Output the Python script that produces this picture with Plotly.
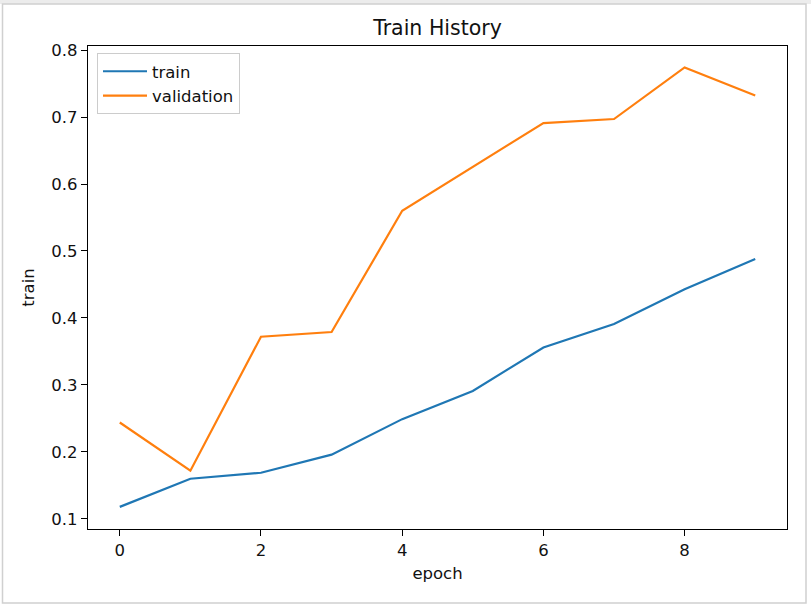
import plotly.graph_objects as go

epochs = list(range(10))
train = [0.118, 0.160, 0.169, 0.196, 0.249, 0.291, 0.356, 0.391, 0.443, 0.488]
validation = [0.244, 0.172, 0.372, 0.379, 0.560, 0.625, 0.691, 0.697, 0.774, 0.732]
x_ticks = [0, 2, 4, 6, 8]
y_ticks = [0.1, 0.2, 0.3, 0.4, 0.5, 0.6, 0.7, 0.8]

W, H = 811, 605
L, R, T, B = 88, 24, 46, 76
pw, ph = W - L - R, H - T - B

def px_x(p):
    return (p - L) / pw

def px_y(p):
    return (H - B - p) / ph

fig = go.Figure()
fig.add_trace(go.Scatter(x=epochs, y=train, mode="lines", name="train",
                         line=dict(color="#1f77b4", width=2.2)))
fig.add_trace(go.Scatter(x=epochs, y=validation, mode="lines", name="validation",
                         line=dict(color="#ff7f0e", width=2.2)))

font = "DejaVu Sans, Arial, sans-serif"
txt = "#111111"
axis_common = dict(showgrid=False, zeroline=False, showline=True, mirror=True,
                   linecolor="black", linewidth=1.3, ticks="outside", ticklen=6,
                   tickcolor="black", tickwidth=1.3,
                   tickfont=dict(family=font, size=16.5, color=txt))

fig.update_layout(
    width=W, height=H,
    margin=dict(l=L, r=R, t=T, b=B, pad=0),
    paper_bgcolor="white", plot_bgcolor="white",
    font=dict(family=font, color=txt),
    title=dict(text="Train History", x=(L + pw / 2) / W, xanchor="center",
               y=1 - 28 / H, yanchor="middle", font=dict(size=20.5, color=txt)),
    xaxis=dict(range=[-0.45, 9.45], tickvals=x_ticks,
               title=dict(text="epoch", font=dict(size=16.5), standoff=8), **axis_common),
    yaxis=dict(range=[0.085, 0.806], tickvals=y_ticks, tickformat=".1f",
               title=dict(text="train", font=dict(size=16.5), standoff=12), **axis_common),
    showlegend=True,
    legend=dict(x=px_x(97), y=px_y(53), xanchor="left", yanchor="top",
                bgcolor="rgba(255,255,255,0.8)", bordercolor="#cccccc", borderwidth=1,
                font=dict(size=16.5, color=txt), tracegroupgap=0,
                itemwidth=44),
    shapes=[
        dict(type="rect", xref="paper", yref="paper",
             x0=px_x(0), x1=px_x(W), y0=px_y(0), y1=px_y(4),
             line=dict(width=0), fillcolor="#ececec", layer="below"),
        dict(type="rect", xref="paper", yref="paper",
             x0=px_x(2.5), x1=px_x(806), y0=px_y(603), y1=px_y(4),
             line=dict(color="#d0d0d0", width=1.5), layer="below"),
    ],
)

fig.write_html("out.html", config={"displayModeBar": False},
               post_script="document.body.style.margin='0';document.body.style.padding='0';")
